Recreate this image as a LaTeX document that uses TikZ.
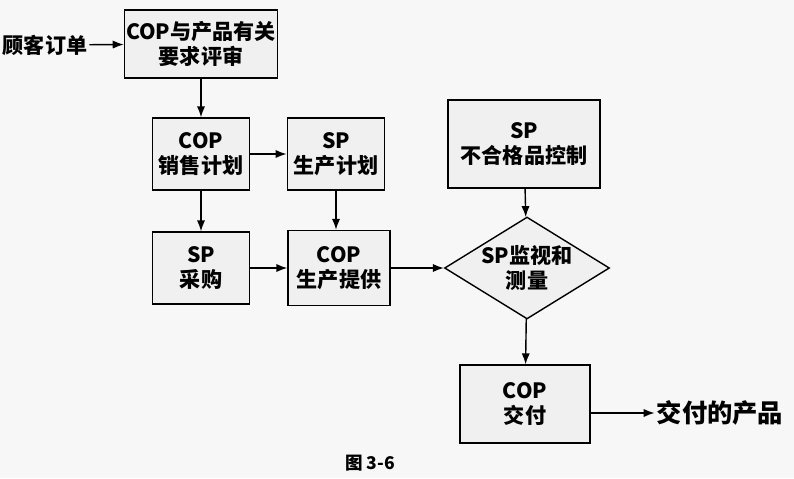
\documentclass[tikz,border=0pt]{standalone}
\usepackage{fontspec}
\newfontfamily\cjk{Noto Sans CJK SC}
\usetikzlibrary{shapes.geometric,arrows.meta}
\begin{document}
\begin{tikzpicture}[x=0.02cm,y=-0.02cm,
  every node/.style={font=\cjk\bfseries\large, align=center, inner sep=1pt},
  boxnode/.style={draw, thick, fill=gray!12, minimum width=1.95cm, minimum height=1.44cm},
  flow/.style={thick, -{Latex[length=2.2mm]}}]
\useasboundingbox[fill=gray!6] (0,0) rectangle (794,478);
\node (order) at (45,45) {顾客订单};
\node[boxnode, minimum width=3.06cm, minimum height=1.36cm] (review) at (201,44) {COP与产品有关\\要求评审};
\node[boxnode] (sales) at (201,154) {COP\\销售计划};
\node[boxnode] (plan) at (336,154) {SP\\生产计划};
\node[boxnode, minimum width=3.04cm, minimum height=1.76cm] (nonconf) at (524,144) {SP\\不合格品控制};
\node[boxnode] (buy) at (201,268) {SP\\采购};
\node[boxnode, minimum width=2.04cm, minimum height=1.5cm] (supply) at (339,268) {COP\\生产提供};
\node[draw, thick, fill=gray!12, diamond, aspect=1.62, minimum width=3.3cm, minimum height=2.04cm, inner sep=0pt] (monitor) at (527,268) {SP监视和\\测量};
\node[boxnode, minimum width=2.6cm, minimum height=1.56cm] (deliver) at (525,404) {COP\\交付};
\node[font=\cjk\bfseries\Large] (product) at (720,413) {交付的产品};
\node[font=\cjk\bfseries] (cap) at (370,463) {图 3-6};
\draw[flow] (order) -- (review);
\draw[flow] (review) -- (sales);
\draw[flow] (sales) -- (plan);
\draw[flow] (sales) -- (buy);
\draw[flow] (plan) -- (plan |- supply.north);
\draw[flow] (buy) -- (supply);
\draw[flow] (supply) -- (monitor);
\draw[flow] (nonconf) -- (monitor);
\draw[flow] (monitor) -- (deliver);
\draw[flow] (deliver.east |- product) -- (product);
\end{tikzpicture}
\end{document}
